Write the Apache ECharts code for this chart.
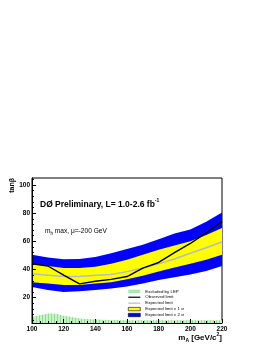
<!DOCTYPE html>
<html><head><meta charset="utf-8">
<script src="https://cdn.jsdelivr.net/npm/echarts@6/dist/echarts.min.js"></script>
<style>html,body{margin:0;padding:0;background:#fff}#c{width:267px;height:345px}</style>
</head><body><div id="c"></div>
<script>
// ---- data ----
const massPoints = [100,110,120,130,140,150,160,170,180,190,200,210,220];
const expected2SigmaLow  = [27.5,25.5,24,24.5,25.5,26.5,28,30,32.5,34.5,36.5,39,42.5];
const expected1SigmaLow  = [31,30,29,29,30,31,33,35.5,38.5,41.5,44,47,50.5];
const expectedLimit      = [37,36,35,35,36,36.5,38.5,41,44,47.5,51.5,55.5,59.5];
const expected1SigmaHigh = [44,42.5,41,41,42,44,47,50.5,54,57,60,64.5,69.5];
const expected2SigmaHigh = [50.5,48.5,47.2,47.5,48.8,51.5,54.5,57.5,61.5,65.5,68.5,74,80.5];
const observedLimit      = [44,42.5,36,29.8,31.7,33,35,41,45,52,58.5,66,74];
const lepMass  = [100,105,110,115,120,125,130,135,140,150,160,180,200,220];
const lepLimit = [6.3,7.5,8.7,8.5,7.2,6.3,5.2,4.8,4.5,4.2,4,4,4,4];
const xTickLabels = [100,120,140,160,180,200,220];
const yTickLabels = [20,40,60,80,100];
const yMinorTicks = [4,8,12,16,24,28,32,36,44,48,52,56,64,68,72,76,84,88,92,96,104];

const pairs = (xs, ys) => xs.map((x, i) => [x, ys[i]]);
const triples = (xs, lo, hi) => xs.map((x, i) => [x, lo[i], hi[i]]);

// hatch pattern for LEP region
const pat = document.createElement('canvas');
pat.width = 3; pat.height = 4;
const pc = pat.getContext('2d');
pc.fillStyle = '#c9f2c9'; pc.fillRect(0,0,3,4);
pc.fillStyle = '#8fdc8f'; pc.fillRect(0,0,1,4);

const FONT = 'Liberation Sans';
const chart = echarts.init(document.getElementById('c'), null, {renderer:'canvas'});

function band(name, lo, hi, color) {
  const data = triples(massPoints, lo, hi);
  return {name, type:'custom', data, encode:{x:0, y:[1,2]}, itemStyle:{color},
    renderItem: function (params, api) {
      if (params.dataIndex !== 0) return null;
      const upper = data.map(d => api.coord([d[0], d[2]]));
      const lower = data.map(d => api.coord([d[0], d[1]])).reverse();
      return {type:'polygon', shape:{points: upper.concat(lower)}, style:{fill: color}, silent:true};
    }};
}

const lineIcon = 'path://M0,0H12V1.2H0Z';

chart.setOption({
  animation:false,
  backgroundColor:'#fff',
  grid:{left:32, right:45, top:178, bottom:22, show:true, borderColor:'#000', borderWidth:1, backgroundColor:'transparent'},
  xAxis:{type:'value', min:100, max:220, interval:20, z:5,
    axisLine:{show:true, onZero:false, lineStyle:{color:'#000', width:1}},
    axisTick:{show:true, inside:true, length:4, lineStyle:{color:'#000'}},
    minorTick:{show:true, splitNumber:4, length:2, lineStyle:{color:'#000'}},
    splitLine:{show:false},
    axisLabel:{color:'#000', fontSize:6.5, fontWeight:'bold', fontFamily:FONT, margin:3,
      customValues: xTickLabels}
  },
  yAxis:[
    {type:'value', min:2, max:105, z:5,
      axisLine:{show:true, onZero:false, lineStyle:{color:'#000', width:1}},
      axisTick:{show:true, inside:true, length:4, lineStyle:{color:'#000'}, customValues:yTickLabels},
      axisLabel:{color:'#000', fontSize:6.5, fontWeight:'bold', fontFamily:FONT, margin:2, customValues:yTickLabels},
      splitLine:{show:false}},
    {type:'value', min:2, max:105, position:'left', z:5,
      axisLine:{show:false},
      axisTick:{show:true, inside:true, length:2, lineStyle:{color:'#000'}, customValues:yMinorTicks},
      axisLabel:{show:false},
      splitLine:{show:false}}
  ],
  legend:{left:128, top:289.3, padding:0, orient:'vertical', itemWidth:12, itemHeight:3.4, itemGap:1.93,
    textStyle:{fontSize:4.4, lineHeight:3.4, fontFamily:FONT, color:'#000'},
    data:[
      {name:'Excluded by LEP', icon:'rect', itemStyle:{color:'#a9e8a9'}},
      {name:'Observed limit', icon:lineIcon, itemStyle:{color:'#000'}},
      {name:'Expected limit', icon:lineIcon, itemStyle:{color:'#b4bcc4'}},
      {name:'Expected limit \u00b1 1 \u03c3', icon:'rect', itemStyle:{color:'#ffff00', borderColor:'#000', borderWidth:0.6}},
      {name:'Expected limit \u00b1 2 \u03c3', icon:'rect', itemStyle:{color:'#0000ff', borderColor:'#000', borderWidth:0.6}}
    ]},
  graphic:[
    {type:'text', x:12.5, y:178, rotation:Math.PI/2, style:{text:'tan\u03b2', font:'bold 7px '+FONT, fill:'#000', textAlign:'right', textVerticalAlign:'middle'}},
    {type:'text', x:40, y:203.5, style:{text:'{a|D\u00d8 Preliminary, L= 1.0-2.6 fb}{s|-1}', fill:'#000', textVerticalAlign:'middle',
      rich:{a:{font:'bold 8.5px '+FONT, fill:'#000', lineHeight:11, verticalAlign:'bottom'}, s:{font:'bold 5px '+FONT, fill:'#000', lineHeight:11, verticalAlign:'top'}}}},
    {type:'text', x:45, y:232, style:{text:'{a|m}{b|h}{a| max, \u03bc=-200 GeV}', fill:'#000', textVerticalAlign:'middle',
      rich:{a:{font:'6.6px '+FONT, fill:'#000', lineHeight:9, verticalAlign:'top'}, b:{font:'4.5px '+FONT, fill:'#000', lineHeight:9, verticalAlign:'bottom'}}}},
    {type:'text', x:222, y:337.5, style:{text:'{a|m}{b|A}{a| [GeV/c}{s|2}{a|]}', fill:'#000', textAlign:'right', textVerticalAlign:'middle',
      rich:{a:{font:'bold 8px '+FONT, fill:'#000', lineHeight:11, verticalAlign:'middle'}, b:{font:'bold 5px '+FONT, fill:'#000', lineHeight:11, verticalAlign:'bottom'}, s:{font:'bold 5px '+FONT, fill:'#000', lineHeight:11, verticalAlign:'top'}}}}
  ],
  series:[
    band('Expected limit \u00b1 2 \u03c3', expected2SigmaLow, expected2SigmaHigh, '#0000ff'),
    band('Expected limit \u00b1 1 \u03c3', expected1SigmaLow, expected1SigmaHigh, '#ffff00'),
    {name:'Excluded by LEP', type:'line', symbol:'none', silent:true,
      data:pairs(lepMass, lepLimit),
      itemStyle:{color:'#a9e8a9'}, lineStyle:{width:0},
      areaStyle:{origin:'start', opacity:1, color:{image:pat, repeat:'repeat'}}},
    {name:'Expected limit', type:'line', symbol:'none', silent:true,
      data:pairs(massPoints, expectedLimit),
      itemStyle:{color:'#b4bcc4'}, lineStyle:{color:'#b4bcc4', width:1.5}},
    {name:'Observed limit', type:'line', symbol:'none', silent:true,
      data:pairs(massPoints, observedLimit),
      itemStyle:{color:'#000'}, lineStyle:{color:'#000', width:1.4}}
  ]
});
</script></body></html>
